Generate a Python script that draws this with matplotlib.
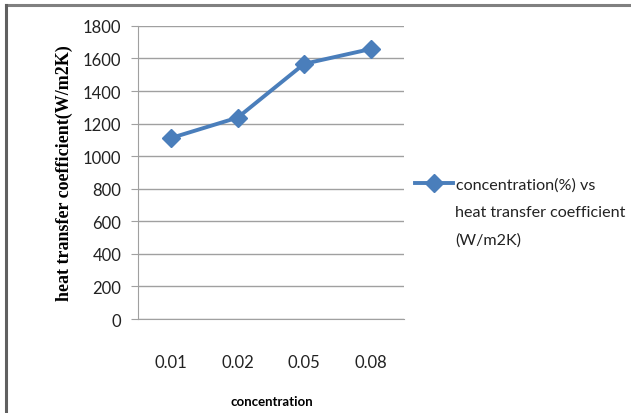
import matplotlib
matplotlib.use("Agg")
import matplotlib.pyplot as plt

# data
categories = ["0.01", "0.02", "0.05", "0.08"]
htc = [1112, 1237, 1567, 1658]
y_ticks = [0, 200, 400, 600, 800, 1000, 1200, 1400, 1600, 1800]
legend_lines = ["concentration(%) vs", "heat transfer coefficient", "(W/m2K)"]

blue = "#4a7ebb"
grid_gray = "#a0a0a0"
tick_font = ["Lato", "DejaVu Sans"]

fig = plt.figure(figsize=(6.31, 4.14), dpi=100)
ax = fig.add_axes([0.2187, 0.227, 0.4213, 0.708])

x = list(range(len(categories)))
ax.plot(x, htc, color=blue, linewidth=2.8, marker="D", markersize=9.5,
        label=legend_lines[0])

ax.set_xlim(-0.5, len(categories) - 0.5)
ax.set_ylim(0, 1800)
ax.set_yticks(y_ticks)
ax.set_xticks(x)
ax.set_xticklabels(categories)
ax.grid(axis="y", color=grid_gray, linewidth=1)
ax.set_axisbelow(True)

for side in ["top", "right"]:
    ax.spines[side].set_visible(False)
ax.spines["left"].set_color(grid_gray)
ax.spines["bottom"].set_color(grid_gray)
ax.tick_params(axis="y", length=5, color=grid_gray, pad=7)
ax.tick_params(axis="x", length=0, pad=25)
for lbl in ax.get_xticklabels() + ax.get_yticklabels():
    lbl.set_family(tick_font)
    lbl.set_fontsize(12)
    lbl.set_color("#222222")

ax.set_ylabel("heat transfer coefficient(W/m2K)", family="Liberation Serif",
              fontweight="bold", fontsize=13, labelpad=7)
fig.text(0.43, 0.03, "concentration", ha="center", va="center",
         family=tick_font, fontweight="bold", fontsize=9.5)

# legend: handle sits on the first line, the rest wraps below it
leg = fig.legend(loc="center left", bbox_to_anchor=(0.657, 0.553), frameon=False,
                 handlelength=2.4, handletextpad=0.2, borderaxespad=0, borderpad=0,
                 prop={"family": tick_font, "size": 11.6})
for t in leg.get_texts():
    t.set_color("#222222")
text_x = 0.721
for i, line in enumerate(legend_lines[1:], start=1):
    fig.text(text_x, 0.553 - i * 0.0676, line, ha="left", va="center",
             family=tick_font, fontsize=11.6, color="#222222")

# outer frame (only top and left edges are visible in the crop)
fig.add_artist(plt.Line2D([0.0095, 1.0], [0.9855, 0.9855], color="#808080", linewidth=2.2))
fig.add_artist(plt.Line2D([0.0095, 0.0095], [0.0, 0.9855], color="#606060", linewidth=2.2))

fig.savefig("out.png", dpi=100)
